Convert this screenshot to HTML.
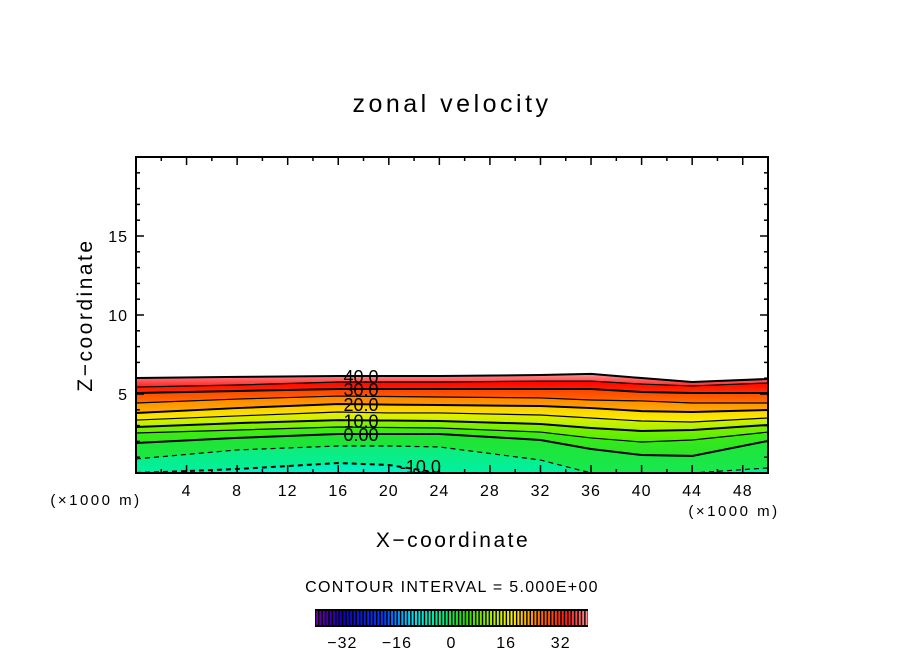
<!DOCTYPE html>
<html><head><meta charset="utf-8"><style>
html,body{margin:0;padding:0;background:#fff;}
svg{display:block;font-family:"Liberation Sans",sans-serif;}
</style></head><body>
<svg id="chart" width="904" height="654" viewBox="0 0 904 654">
<rect width="904" height="654" fill="#fff"/>
<text x="452" y="112" font-size="25" letter-spacing="3.5" text-anchor="middle">zonal velocity</text>
<g id="field"></g>
<g id="lines"></g>
<g id="labels"></g>
<rect x="136" y="157" width="632" height="316" fill="none" stroke="#000" stroke-width="2"/>
<g id="ticks"></g>
<g id="xlabels"></g>
<g id="ylabels"></g>
<text x="96" y="505" font-size="15" letter-spacing="2.5" text-anchor="middle">(×1000 m)</text>
<text x="734" y="516" font-size="15" letter-spacing="2.5" text-anchor="middle">(×1000 m)</text>
<text x="453" y="547" font-size="21" letter-spacing="2.5" text-anchor="middle">X−coordinate</text>
<text x="92" y="315" font-size="21" letter-spacing="2.5" text-anchor="middle" transform="rotate(-90 92 315)">Z−coordinate</text>
<text x="452" y="592" font-size="16" letter-spacing="1.3" text-anchor="middle">CONTOUR INTERVAL = 5.000E+00</text>
<g id="cbar"></g>
</svg>
<script>
const xs = [0, 8, 16, 20, 24, 32, 36, 40, 44, 50];
const levels = [-10, -5, 0, 5, 10, 15, 20, 25, 30, 35, 40];
const lvM10 = [0, 0.25, 0.63, 0.51, 0, 0, 0, 0, 0, 0];
const lvM5 = [0.89, 1.46, 1.71, 1.71, 1.65, 0.82, 0, 0, 0, 0.32];
const lv0 = [1.90, 2.22, 2.47, 2.47, 2.47, 2.09, 1.52, 1.14, 1.08, 2.03];
const lv5 = [2.53, 2.72, 2.91, 2.88, 2.85, 2.59, 2.22, 1.96, 2.09, 2.59];
const lv10 = [2.91, 3.16, 3.35, 3.32, 3.29, 3.10, 2.85, 2.66, 2.72, 3.04];
const lv15 = [3.35, 3.61, 3.86, 3.80, 3.80, 3.67, 3.48, 3.29, 3.23, 3.48];
const lv20 = [3.80, 4.11, 4.37, 4.33, 4.30, 4.24, 4.11, 3.92, 3.86, 3.99];
const lv25 = [4.43, 4.68, 4.87, 4.84, 4.81, 4.75, 4.62, 4.56, 4.43, 4.43];
const lv30 = [5.06, 5.19, 5.32, 5.32, 5.32, 5.32, 5.32, 5.13, 5.06, 5.06];
const lv35 = [5.44, 5.57, 5.76, 5.76, 5.76, 5.82, 5.82, 5.63, 5.51, 5.70];
const lv40 = [6.01, 6.08, 6.14, 6.14, 6.14, 6.20, 6.27, 6.01, 5.76, 5.95];
const xTicks = [4, 8, 12, 16, 20, 24, 28, 32, 36, 40, 44, 48];
const yTicks = [5, 10, 15];
const cbTicks = [-32, -16, 0, 16, 32];
const labelTexts = ["-10.0", "0.00", "10.0", "20.0", "30.0", "40.0"];

const NS = "http://www.w3.org/2000/svg";
const X0 = 136, X1 = 768, Y0 = 473, Y1 = 157;
const sx = v => X0 + (v - 0) / 50 * (X1 - X0);
const sy = v => Y0 - (v - 0) / 20 * (Y0 - Y1);
function mk(tag, attrs, parent) { const e = document.createElementNS(NS, tag); for (const k in attrs) e.setAttribute(k, attrs[k]); parent.appendChild(e); return e; }

const lines = [lvM10, lvM5, lv0, lv5, lv10, lv15, lv20, lv25, lv30, lv35, lv40];
const bandCols = [
  ["#00f0a0", "#10ec78"], ["#18e850", "#20e430"], ["#28e428", "#40ec10"], ["#50ee00", "#90f000"],
  ["#a8f000", "#e8f000"], ["#f8f000", "#ffc800"], ["#ffb000", "#ff8000"], ["#ff7000", "#ff4000"],
  ["#ff3000", "#ff0000"], ["#ff2020", "#ff9090"]
];
const defs = mk("defs", {}, document.getElementById("chart"));
const field = document.getElementById("field");
function pts(arr) { return xs.map((x, i) => sx(x) + "," + sy(Math.max(0, arr[i]))); }
{
  const g = mk("linearGradient", { id: "gb", x1: 0, y1: 1, x2: 0, y2: 0 }, defs);
  mk("stop", { offset: 0, "stop-color": "#00f4d0" }, g); mk("stop", { offset: 1, "stop-color": "#00f0b0" }, g);
  const p = [sx(0) + "," + sy(0)].concat(pts(lvM10)).concat([sx(50) + "," + sy(0)]);
  const pg = mk("polygon", { points: p.join(" "), fill: "url(#gb)" }, field);
  
  
}
for (let k = 0; k < lines.length - 1; k++) {
  const g = mk("linearGradient", { id: "g" + k, x1: 0, y1: 1, x2: 0, y2: 0 }, defs);
  mk("stop", { offset: 0, "stop-color": bandCols[k][0] }, g); mk("stop", { offset: 1, "stop-color": bandCols[k][1] }, g);
  const lo = pts(lines[k]), hi = pts(lines[k + 1]).reverse();
  const pg = mk("polygon", { points: lo.concat(hi).join(" "), fill: "url(#g" + k + ")", stroke: bandCols[k][1], "stroke-width": 0.5 }, field);
  
  
}
const lg = document.getElementById("lines");
lines.forEach((arr, k) => {
  const lev = levels[k];
  const d = xs.map((x, i) => (i ? "L" : "M") + sx(x) + "," + sy(Math.max(0, arr[i]))).join(" ");
  const attrs = { d: d, fill: "none", stroke: "#000", "stroke-width": (lev % 10 === 0) ? 2 : 1.2 };
  if (lev < 0) attrs["stroke-dasharray"] = "5,4";
  const p = mk("path", attrs, lg);
  
  
});
const lab = document.getElementById("labels");
[[-10, 22.5], [0, 17.8], [10, 17.8], [20, 17.8], [30, 17.8], [40, 17.8]].forEach((pair, j) => {
  const lev = pair[0], xv = pair[1];
  const arr = lines[levels.indexOf(lev)];
  let i = 0; while (i < xs.length - 2 && xs[i + 1] < xv) i++;
  const t = (xv - xs[i]) / (xs[i + 1] - xs[i]);
  const zv = Math.max(0.45, arr[i] + t * (arr[i + 1] - arr[i]));
  const tx = mk("text", { x: sx(xv), y: sy(zv) + 7, "font-size": 18, "text-anchor": "middle", fill: "#000" }, lab);
  tx.textContent = labelTexts[j];
  
  
});
const tk = document.getElementById("ticks");
for (let v = 2; v < 50; v += 2) {
  const L = v % 4 === 0 ? 8 : 4;
  mk("line", { x1: sx(v), y1: Y0, x2: sx(v), y2: Y0 - L, stroke: "#000", "stroke-width": 1.5 }, tk);
  mk("line", { x1: sx(v), y1: Y1, x2: sx(v), y2: Y1 + L, stroke: "#000", "stroke-width": 1.5 }, tk);
}
for (let v = 1; v < 20; v++) {
  const maj = v % 5 === 0;
  mk("line", { x1: maj ? X0 - 1 : X0, y1: sy(v), x2: X0 + (maj ? 8 : 4), y2: sy(v), stroke: "#000", "stroke-width": 1.5 }, tk);
  mk("line", { x1: X1 - (maj ? 8 : 4), y1: sy(v), x2: maj ? X1 + 1 : X1, y2: sy(v), stroke: "#000", "stroke-width": 1.5 }, tk);
}
const xl = document.getElementById("xlabels");
xTicks.forEach(v => {
  const t = mk("text", { x: sx(v), y: 496, "font-size": 16, "letter-spacing": 1, "text-anchor": "middle" }, xl);
  t.textContent = v;
  
  
});
const yl = document.getElementById("ylabels");
yTicks.forEach(v => {
  const t = mk("text", { x: 128, y: sy(v) + 6, "font-size": 16, "letter-spacing": 1, "text-anchor": "end" }, yl);
  t.textContent = v;
  
  
});
const cb = document.getElementById("cbar");
const CB0 = 315, CB1 = 588, cbx = v => CB0 + (v + 40) / 80 * (CB1 - CB0);
mk("rect", { x: CB0, y: 609, width: CB1 - CB0, height: 18, fill: "#000" }, cb);
function cmap(v) {
  const stops = [[-40, [110, 0, 160]], [-32, [20, 0, 180]], [-20, [0, 60, 255]], [-12, [0, 220, 255]], [-4, [0, 240, 150]], [4, [40, 220, 0]], [12, [180, 240, 0]], [18, [255, 240, 0]], [26, [255, 110, 0]], [34, [255, 20, 20]], [40, [255, 150, 150]]];
  for (let i = 0; i < stops.length - 1; i++) if (v <= stops[i + 1][0]) {
    const t = (v - stops[i][0]) / (stops[i + 1][0] - stops[i][0]);
    const c = stops[i][1].map((a, j) => Math.round(a + t * (stops[i + 1][1][j] - a)));
    return "rgb(" + c.join(",") + ")";
  }
  return "rgb(255,150,150)";
}
for (let v = -40; v < 40; v++) {
  mk("rect", { x: cbx(v) + 1, y: 611, width: 2, height: 14, fill: cmap(v + 0.5) }, cb);
}
cbTicks.forEach(v => {
  const t = mk("text", { x: cbx(v), y: 648, "font-size": 16, "letter-spacing": 1, "text-anchor": "middle" }, cb);
  t.textContent = v < 0 ? "−" + Math.abs(v) : v;
  
  
});
</script>
</body></html>
